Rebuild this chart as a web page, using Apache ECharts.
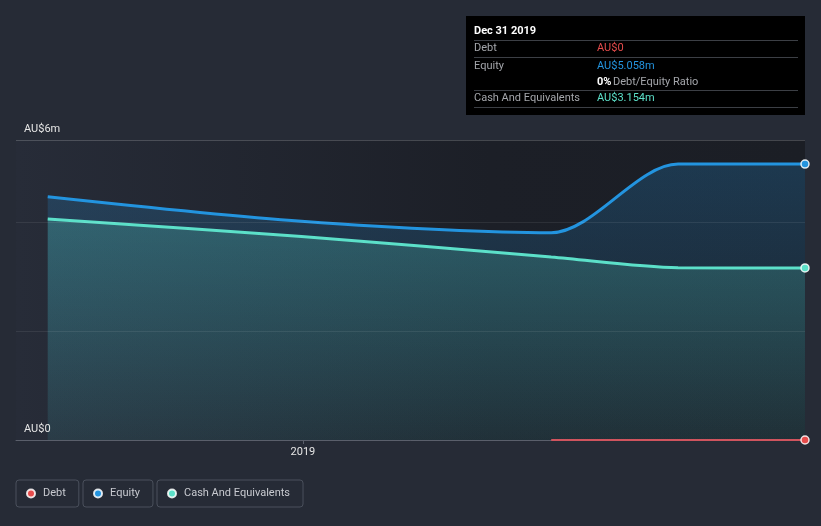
<!DOCTYPE html>
<html>
<head>
<meta charset="utf-8">
<script src="https://cdn.jsdelivr.net/npm/echarts@6/dist/echarts.min.js"></script>
<style>
html,body{margin:0;padding:0;background:#262b36;}
#c{width:821px;height:526px;}
</style>
</head>
<body>
<div id="c"></div>
<script>
// ---- data ----
const dates = ['2018-06-30', '2018-12-31', '2019-06-30', '2019-09-30', '2019-12-31'];
const debt = [null, null, 0, 0, 0];
const equity = [4.46, 4.01, 3.80, 5.058, 5.058];
const cash = [4.05, 3.73, 3.355, 3.16, 3.154];
const xTickDates = ['2019-01-01'];
const xTickLabels = ['2019'];
const yTickValues = [0, 5.5];
const yTickLabels = ['AU$0', 'AU$6m'];
const xRange = ['2018-06-07', '2019-12-31'];
const tooltipTitle = 'Dec 31 2019';

const ts = s => Date.UTC(+s.slice(0, 4), +s.slice(5, 7) - 1, +s.slice(8, 10));
const last = dates.length - 1;
const FONT = 'Roboto';

const C_DEBT = '#e64c4c', C_EQ = '#2394df', C_CASH = '#5ce0c9';

function series(name, vals, color, width, fill) {
  const s = {
    name, type: 'line', smooth: 0.3,
    data: dates.map((d, i) => [ts(d), vals[i]]),
    color,
    lineStyle: { color, width },
    symbol: 'circle',
    symbolSize: (v, p) => p.dataIndex === last ? 8 : 0,
    showSymbol: true,
    itemStyle: { color, borderColor: 'rgba(255,255,255,0.85)', borderWidth: 1.5 },
    emphasis: { disabled: true },
    silent: true
  };
  if (fill) {
    s.areaStyle = {
      color: { type: 'linear', x: 0, y: 0, x2: 0, y2: 1, colorStops: fill }
    };
  }
  return s;
}

function legend(name, left) {
  return {
    data: [name], left, top: 480, orient: 'horizontal',
    icon: 'circle', itemWidth: 14, itemHeight: 8,
    padding: [8, 13, 8, 10],
    borderColor: '#4a505c', borderWidth: 1, borderRadius: 3,
    selectedMode: false,
    textStyle: { color: '#c8cad0', fontSize: 11, fontFamily: FONT }
  };
}

const fmt = v => 'AU$' + (v === 0 ? '0' : v.toFixed(3) + 'm');
const ratio = Math.round((debt[last] / equity[last]) * 100) + '%';

const tipX = 466, tipY = 16, tipW = 339, tipH = 99;
const col2 = 597;
const sepColor = '#3c3f45';
function txt(text, x, y, fill, weight) {
  return { type: 'text', x, y, silent: true,
    style: { text, fill, font: (weight || 'normal') + ' 11px ' + FONT, verticalAlign: 'middle', align: 'left' } };
}
function sep(y) {
  return { type: 'line', silent: true, shape: { x1: 474, y1: y, x2: 798, y2: y }, style: { stroke: sepColor, lineWidth: 1 } };
}

const xTicks = xTickDates.map(ts);

const option = {
  backgroundColor: '#262b36',
  animation: false,
  textStyle: { fontFamily: FONT },
  grid: {
    left: 16, right: 16, top: 140, bottom: 86, show: true, borderWidth: 0,
    backgroundColor: { type: 'linear', x: 0, y: 0, x2: 1, y2: 0,
      colorStops: [{ offset: 0, color: '#272c38' }, { offset: 0.6, color: '#1c1f27' }, { offset: 1, color: '#1b1e25' }] }
  },
  xAxis: {
    type: 'value', min: ts(xRange[0]), max: ts(xRange[1]),
    axisLine: { show: true, onZero: false, lineStyle: { color: '#5a5f6b', width: 1 } },
    axisTick: { show: true, customValues: xTicks, length: 4, lineStyle: { color: '#5a5f6b' } },
    axisLabel: { show: true, customValues: xTicks, margin: 7, color: '#e6e6e6', fontSize: 11, fontFamily: FONT,
      formatter: v => { const i = xTicks.indexOf(v); return i >= 0 ? xTickLabels[i] : ''; } },
    splitLine: { show: false }
  },
  yAxis: {
    type: 'value', min: 0, max: 5.5, interval: 2,
    axisLine: { show: false }, axisTick: { show: false },
    splitLine: { show: true, lineStyle: { color: ['#5a5f6b', 'rgba(255,255,255,0.08)', 'rgba(255,255,255,0.08)', 'rgba(255,255,255,0.18)'], width: 1 } },
    axisLabel: {
      inside: true, margin: 8, verticalAlign: 'bottom', padding: [0, 0, 5, 0],
      color: '#e6e6e6', fontSize: 11, fontFamily: FONT,
      showMinLabel: true, showMaxLabel: true,
      formatter: v => { const i = yTickValues.indexOf(v); return i >= 0 ? yTickLabels[i] : ''; }
    },
    z: 5
  },
  legend: [legend('Debt', 16), legend('Equity', 83), legend('Cash And Equivalents', 157)],
  series: [
    series('Equity', equity, C_EQ, 3, [{ offset: 0, color: 'rgba(35,148,223,0.32)' }, { offset: 1, color: 'rgba(35,148,223,0.05)' }]),
    series('Cash And Equivalents', cash, C_CASH, 3, [{ offset: 0, color: 'rgba(92,224,201,0.32)' }, { offset: 1, color: 'rgba(92,224,201,0.1)' }]),
    Object.assign(series('Debt', debt, C_DEBT, 2, null), { lineStyle: { color: '#d0545e', width: 2 }, clip: false, z: 10 })
  ],
  graphic: [
    { type: 'rect', silent: true, shape: { x: tipX, y: tipY, width: tipW, height: tipH }, style: { fill: '#000000' } },
    txt(tooltipTitle, 474, 31, '#ffffff', 'bold'),
    sep(40.5),
    txt('Debt', 474, 48.5, '#a4a6ab'),
    txt(fmt(debt[last]), col2, 48.5, C_DEBT),
    sep(57.5),
    txt('Equity', 474, 66, '#a4a6ab'),
    txt(fmt(equity[last]), col2, 66, C_EQ),
    txt(ratio, col2, 82, '#ffffff', 'bold'),
    txt('Debt/Equity Ratio', col2 + 16, 82, '#a4a6ab'),
    sep(90.5),
    txt('Cash And Equivalents', 474, 98.5, '#a4a6ab'),
    txt(fmt(cash[last]), col2, 98.5, C_CASH),
    sep(107.5)
  ]
};

const chart = echarts.init(document.getElementById('c'), null, { renderer: 'canvas' });
chart.setOption(option);
</script>
</body>
</html>
